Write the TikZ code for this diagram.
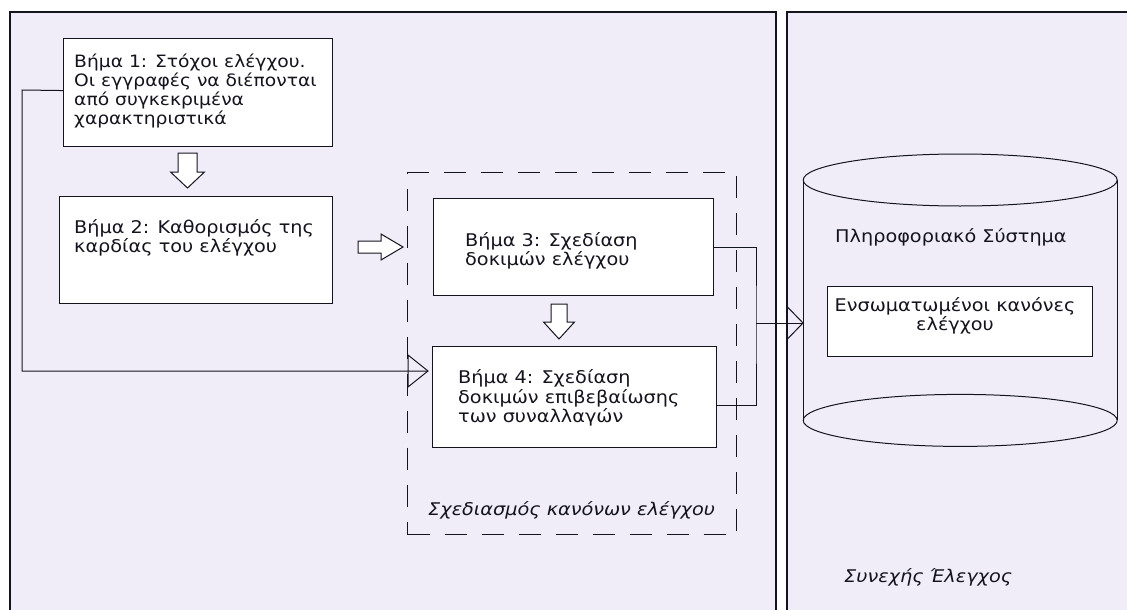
\documentclass[tikz,border=0pt]{standalone}
\usepackage{fontspec}
\setmainfont{DejaVu Sans}[FakeStretch=1.1]
\usetikzlibrary{arrows.meta,calc}
\definecolor{panelbg}{RGB}{240,237,249}
\definecolor{ink}{RGB}{20,20,30}
\newcommand\blkdown[6]{% cx, top, headY, tip, shaft half, head half
  \draw[blk] ({#1-#5},#2) -- ({#1+#5},#2) -- ({#1+#5},#3) -- ({#1+#6},#3) -- (#1,#4)
    -- ({#1-#6},#3) -- ({#1-#5},#3) -- cycle;}
\newcommand\blkright[6]{% left, cy, headX, tip, shaft half, head half
  \draw[blk] (#1,{#2-#5}) -- (#3,{#2-#5}) -- (#3,{#2-#6}) -- (#4,#2) -- (#3,{#2+#6})
    -- (#3,{#2+#5}) -- (#1,{#2+#5}) -- cycle;}
\begin{document}
\begin{tikzpicture}[x=1pt,y=-1pt,
  panel/.style={draw=ink, fill=panelbg, line width=1.3pt},
  box/.style={draw=ink, fill=white, line width=1.1pt, inner sep=0pt, anchor=north west},
  txt/.style={inner sep=0pt, anchor=west, align=left, text=ink, font=\fontsize{17.5}{19.5}\selectfont},
  itxt/.style={txt, font=\fontsize{17.5}{19.5}\selectfont\itshape},
  conn/.style={draw=ink, line width=1pt},
  blk/.style={draw=ink, fill=white, line width=1pt, line join=miter},
  grpbox/.style={draw=ink, line width=1.1pt, dash pattern=on 22pt off 15pt, inner sep=0pt, anchor=north west}
  ]
\useasboundingbox (0,0) rectangle (1127,610);
% panels
\fill[white] (0,0) rectangle (1127,610);
\filldraw[panel] (10,612) -- (10,12) -- (776,12) -- (776,612);
\filldraw[panel] (787,612) -- (787,12) -- (1130,12) -- (1130,612);

% dashed group
\node[grpbox, minimum width=329pt, minimum height=362pt] (grp) at (407,172) {};
\node[itxt] (grplbl) at (428,510) {Σχεδιασμός κανόνων ελέγχου};

% boxes
\node[box, minimum width=269pt, minimum height=108pt] (b1) at (63,38) {};
\node[txt, font=\fontsize{17}{19.3}\selectfont] (t1) at (74,91) {Βήμα 1: Στόχοι ελέγχου.\\Οι εγγραφές να διέπονται\\από συγκεκριμένα\\χαρακτηριστικά};
\node[box, minimum width=273pt, minimum height=107pt] (b2) at (59,196) {};
\node[txt] (t2) at (74,238) {Βήμα 2: Καθορισμός της\\καρδίας του ελέγχου};
\node[box, minimum width=280pt, minimum height=97pt] (b3) at (433,198) {};
\node[txt] (t3) at (465,251) {Βήμα 3: Σχεδίαση\\δοκιμών ελέγχου};
\node[box, minimum width=284pt, minimum height=101pt] (b4) at (432,346) {};
\node[txt] (t4) at (458,398) {Βήμα 4: Σχεδίαση\\δοκιμών επιβεβαίωσης\\των συναλλαγών};

% block arrows
\blkdown{187.5}{153}{172}{188}{9.5}{17}
\blkright{358}{247}{381}{403}{6}{13}
\blkdown{559}{304}{322}{339}{8}{15.5}

% cylinder
\node[inner sep=0pt, minimum width=314pt, minimum height=240pt, anchor=north west] (cyl) at (803,180) {};
\draw[conn] (cyl.north west) -- (cyl.south west);
\draw[conn] (cyl.north east) -- (cyl.south east);
\draw[conn] (cyl.north) ellipse [x radius=157pt, y radius=26pt];
\draw[conn] (cyl.south) ellipse [x radius=157pt, y radius=26pt];
\node[txt] (ptxt) at (835,237) {Πληροφοριακό Σύστημα};
\node[box, minimum width=265pt, minimum height=70pt] (rules) at (827,286) {};
\node[txt, anchor=center, align=center] (rtxt) at (955,316) {Ενσωματωμένοι κανόνες\\ελέγχου};
\node[itxt] (cont) at (844,577) {Συνεχής Έλεγχος};

% connectors
\coordinate (in4) at ([xshift=-4pt]b4.west |- 0,371);
\draw[conn] ([yshift=2pt]b1.west) -- (22,90) |- (in4);
\draw[conn] (in4) -- ++(-20,-16) -- ++(0,32) -- cycle;
\coordinate (jn) at (756,323);
\draw[conn] (b3.east) -| (jn) |- ([yshift=-8.5pt]b4.east);
\coordinate (incyl) at (cyl.west |- jn);
\draw[conn] (jn) -- (incyl);
\draw[conn] (incyl) -- ++(-16,-16.5) -- ++(0,33) -- cycle;
\end{tikzpicture}
\end{document}
